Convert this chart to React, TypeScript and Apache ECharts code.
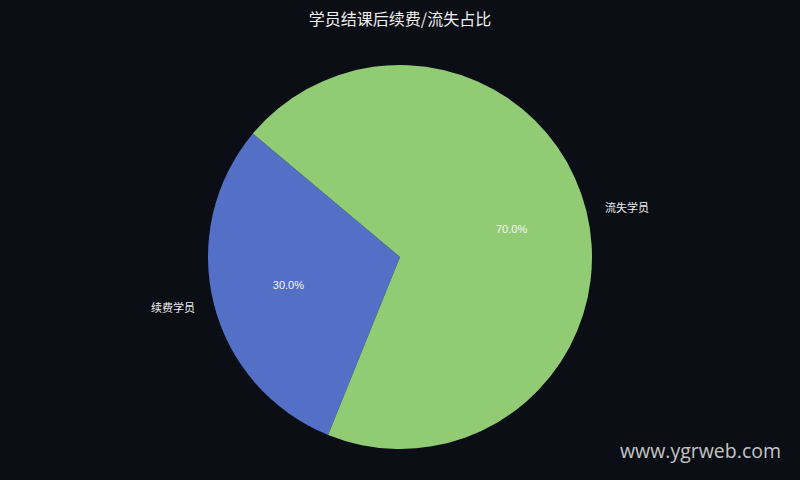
import React, { useEffect, useRef } from "react";
import * as echarts from "echarts";

const categories = ["续费学员", "流失学员"];
const values = [30, 70];
const colors = ["#5470c6", "#91cc75"];
const titleText = "学员结课后续费/流失占比";
const watermark = "www.ygrweb.com";

export default function App() {
  const ref = useRef<HTMLDivElement>(null);
  useEffect(() => {
    document.body.style.margin = "0";
    const chart = echarts.init(ref.current!, null, { renderer: "svg" });
    const data = categories.map((name, i) => ({
      name,
      value: values[i],
      itemStyle: { color: colors[i] },
    }));
    const total = values.reduce((a, b) => a + b, 0);
    chart.setOption({
      animation: false,
      backgroundColor: "#0b0e14",
      title: {
        text: titleText,
        left: "center",
        top: 5,
        textStyle: {
          color: "#f0f0f0",
          fontSize: 16,
          fontWeight: "normal",
          fontFamily: "Noto Sans CJK SC",
        },
      },
      graphic: [
        {
          type: "text",
          right: 19,
          bottom: 20,
          style: {
            text: watermark,
            fill: "rgba(230,230,230,0.85)",
            font: "19.5px 'Open Sans'",
          },
        },
      ],
      series: [
        {
          type: "pie",
          center: [400, 257],
          radius: [0, 192],
          startAngle: 140,
          clockwise: false,
          data,
          label: {
            show: true,
            position: "outside",
            formatter: "{b}",
            color: "#eeeeee",
            fontSize: 11,
            fontFamily: "Noto Sans CJK SC",
          },
          labelLine: { show: false, length: 14, length2: 0 },
          emphasis: { disabled: true },
        },
        {
          type: "pie",
          center: [400, 257],
          radius: [0, 224],
          startAngle: 140,
          clockwise: false,
          silent: true,
          data: data.map((d) => ({ ...d, itemStyle: { color: "rgba(0,0,0,0)" } })),
          label: {
            show: true,
            position: "inside",
            formatter: (p: any) => ((p.value / total) * 100).toFixed(1) + "%",
            color: "#f4f4f4",
            fontSize: 11,
            fontFamily: "Liberation Sans",
          },
          labelLine: { show: false },
          emphasis: { disabled: true },
        },
      ],
    });
    return () => chart.dispose();
  }, []);
  return (
    <div
      ref={ref}
      style={{ position: "fixed", left: 0, top: 0, width: 800, height: 480 }}
    />
  );
}
